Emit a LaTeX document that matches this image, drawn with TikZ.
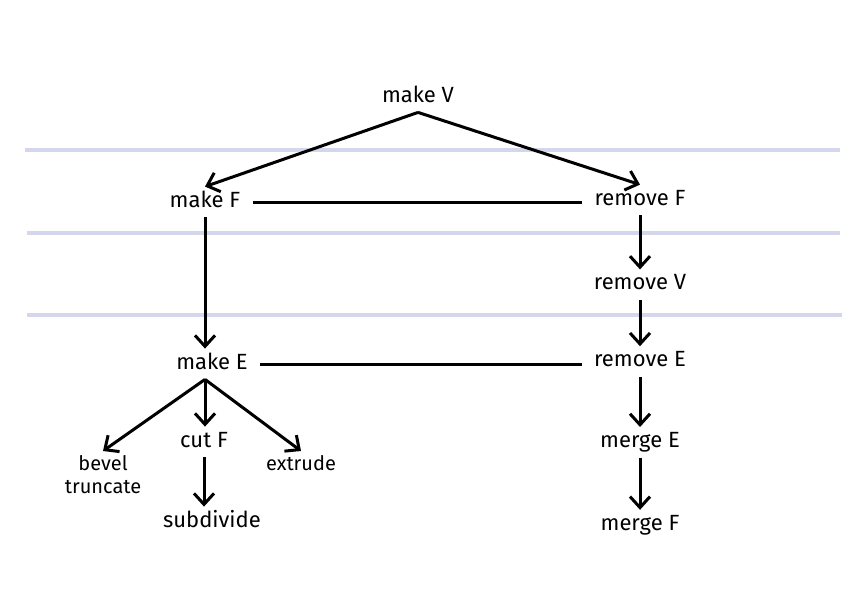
\documentclass[tikz,border=0pt]{standalone}
\usepackage{fontspec}
\setmainfont{Fira Sans}
\usetikzlibrary{arrows.meta, positioning}
\definecolor{bandcol}{RGB}{212,215,235}

\begin{document}
\begin{tikzpicture}[
  x=0.5pt, y=-0.5pt,
  font=\fontsize{11}{13}\selectfont, >={Straight Barb[length=5.5pt,width=10pt]},
  op/.style={inner xsep=6pt, inner ysep=2pt, text height=8pt, text depth=3pt},
  leaf/.style={inner xsep=6pt, inner ysep=2pt, align=center,
               font=\fontsize{10}{11.5}\selectfont},
  flow/.style={->, line width=1.5pt},
  link/.style={line width=1.5pt},
  band/.style={draw=bandcol, line width=2pt}
]
\useasboundingbox (0,0) rectangle (860,600);

% level bands
\foreach \y/\xa/\xb in {150/25/840, 233/27/840, 315/27/842}
  \draw[band] (\xa,\y) -- (\xb,\y);

\node[op] (mkV) at (418,97) {make V};
\node[op] (mkF) at (205,202) {make F};
\node[op] (rmF) at (640,200) {remove F};
\node[op, below=27pt of rmF] (rmV) {remove V};
\node[op, below=23pt of rmV] (rmE) {remove E};
\node[op, below=25pt of rmE] (mgE) {merge E};
\node[op, below=26pt of mgE] (mgF) {merge F};
\node[op] (mkE) at (212,364) {make E};
\node[op] (cutF) at (204,442) {cut F};
\node[leaf, anchor=north] (bevel) at (103,451) {bevel\\truncate};
\node[leaf, anchor=north] (extr) at (301,451) {extrude};
\node[op] (subdiv) at (212,522) {subdivide};

\draw[flow] (mkV.south) -- (mkF.north);
\draw[flow] (mkV.south) -- (rmF.north);
\draw[link] (mkF.east) -- (mkF.east -| rmF.west);
\draw[flow] (mkF.south) -- (mkF.south |- mkE.north);
\draw[link] (mkE.east) -- (mkE.east -| rmE.west);
\foreach \a/\b in {rmF/rmV, rmV/rmE, rmE/mgE, mgE/mgF}
  \draw[flow] (\a) -- (\b);

% make E fan
\coordinate (fan) at (mkF.south |- mkE.south);
\draw[flow] (fan) -- (bevel.north);
\draw[flow] (fan) -- (fan |- cutF.north);
\draw[flow] (fan) -- (extr.north);
\draw[flow] (cutF.south) -- (cutF.south |- subdiv.north);
\end{tikzpicture}
\end{document}
